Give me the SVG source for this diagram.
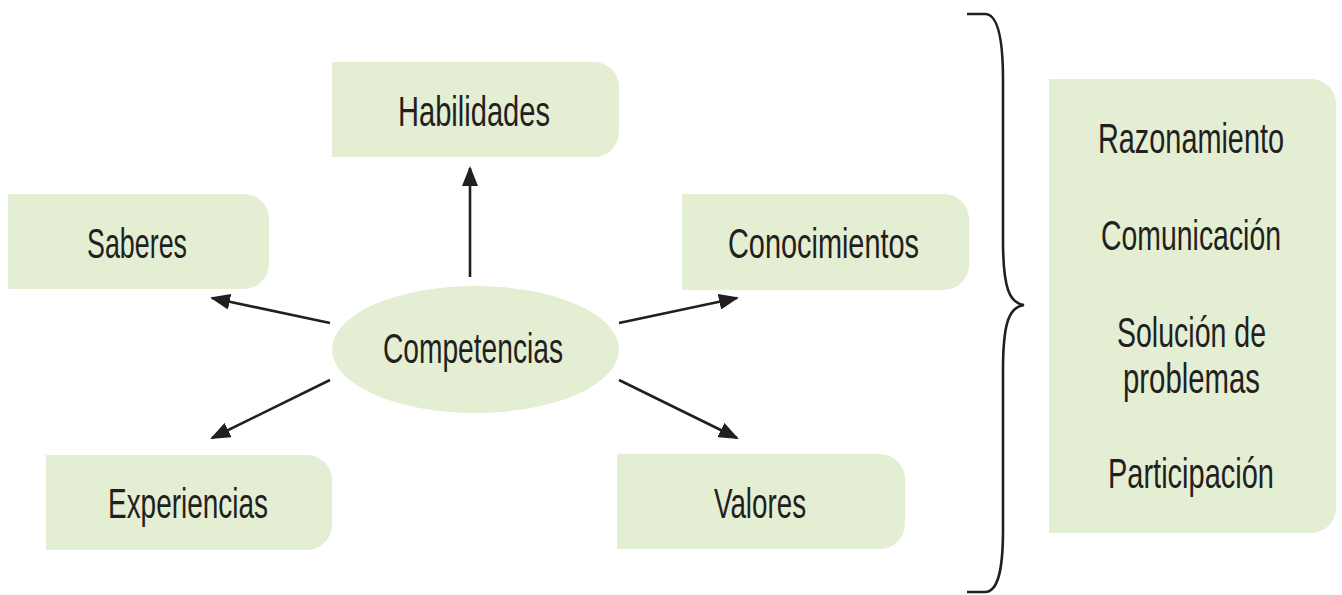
<svg xmlns="http://www.w3.org/2000/svg" width="1342" height="595" viewBox="0 0 1342 595">
<style>
.box{fill:#e3eed3;}
.t{font-family:"Liberation Sans Narrow","Liberation Sans",Arial,sans-serif;font-size:43px;fill:#231f20;text-anchor:middle;}
.c{stroke:#231f20;stroke-width:2.6;fill:none;}
</style>
<defs>
<marker id="ah" viewBox="0 0 20 16" refX="18" refY="8" markerWidth="20" markerHeight="16" markerUnits="userSpaceOnUse" orient="auto">
<path d="M0,0 L20,8 L0,16 Z" fill="#231f20"/>
</marker>
</defs>
<rect width="1342" height="595" fill="#ffffff"/>
<g id="habilidades">
<path class="box" d="M332,62 H594 A25,25 0 0 1 619,87 V132 A25,25 0 0 1 594,157 H332 Z"/>
<text class="t" x="474" y="126" textLength="152" lengthAdjust="spacingAndGlyphs">Habilidades</text>
</g>
<g id="saberes">
<path class="box" d="M8,194 H244 A25,25 0 0 1 269,219 V264 A25,25 0 0 1 244,289 H8 Z"/>
<text class="t" x="137" y="258" textLength="100" lengthAdjust="spacingAndGlyphs">Saberes</text>
</g>
<g id="conocimientos">
<path class="box" d="M682,194 H944 A25,25 0 0 1 969,219 V265 A25,25 0 0 1 944,290 H682 Z"/>
<text class="t" x="823.5" y="258" textLength="191" lengthAdjust="spacingAndGlyphs">Conocimientos</text>
</g>
<g id="experiencias">
<path class="box" d="M46,455 H307 A25,25 0 0 1 332,480 V525 A25,25 0 0 1 307,550 H46 Z"/>
<text class="t" x="188" y="518" textLength="160" lengthAdjust="spacingAndGlyphs">Experiencias</text>
</g>
<g id="valores">
<path class="box" d="M617,454 H880 A25,25 0 0 1 905,479 V524 A25,25 0 0 1 880,549 H617 Z"/>
<text class="t" x="760" y="518" textLength="92" lengthAdjust="spacingAndGlyphs">Valores</text>
</g>
<g id="competencias">
<ellipse class="box" cx="475.5" cy="349.5" rx="143.5" ry="63.5"/>
<text class="t" x="473" y="363" textLength="180" lengthAdjust="spacingAndGlyphs">Competencias</text>
</g>
<g id="lista">
<path class="box" d="M1049,79 H1311 A25,25 0 0 1 1336,104 V508 A25,25 0 0 1 1311,533 H1049 Z"/>
<text class="t" x="1191" y="153" textLength="186" lengthAdjust="spacingAndGlyphs">Razonamiento</text>
<text class="t" x="1191" y="250" textLength="180" lengthAdjust="spacingAndGlyphs">Comunicación</text>
<text class="t" x="1191.5" y="347" textLength="149" lengthAdjust="spacingAndGlyphs">Solución de</text>
<text class="t" x="1191.5" y="393" textLength="137" lengthAdjust="spacingAndGlyphs">problemas</text>
<text class="t" x="1191" y="488" textLength="166" lengthAdjust="spacingAndGlyphs">Participación</text>
</g>
<g id="connectors">
<line class="c" x1="470" y1="277" x2="470" y2="168" marker-end="url(#ah)"/>
<line class="c" x1="330" y1="323" x2="212" y2="298" marker-end="url(#ah)"/>
<line class="c" x1="619" y1="323" x2="737" y2="298" marker-end="url(#ah)"/>
<line class="c" x1="330" y1="380" x2="212" y2="438" marker-end="url(#ah)"/>
<line class="c" x1="619" y1="380" x2="737" y2="438" marker-end="url(#ah)"/>
<path class="c" stroke-width="4.5" d="M967,14 H985 C998,14 1003,40 1003,80 V240 C1003,290 1010,303 1024,305 C1010,307 1003,320 1003,370 V530 C1003,570 998,592 985,592 H967"/>
</g>
</svg>
